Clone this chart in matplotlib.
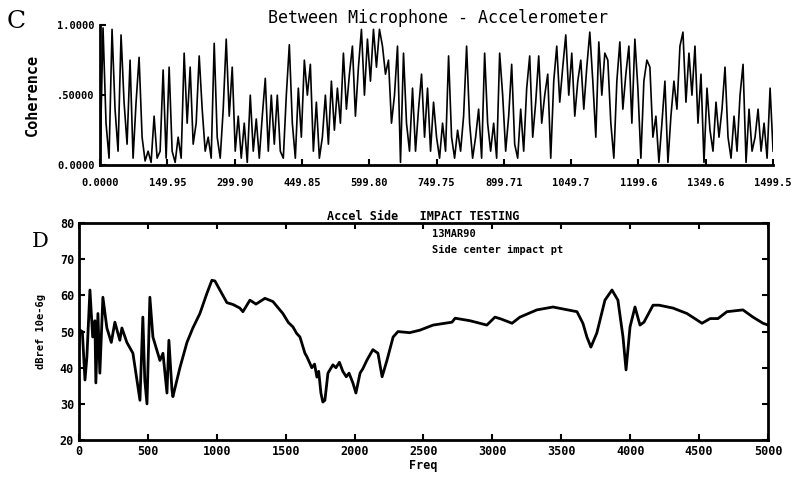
import numpy as np
import matplotlib.pyplot as plt

# panel C: coherence, sampled evenly from 0 to 1499.5 Hz
coherence = [
    0.02, 0.98, 0.30, 0.05, 0.97, 0.40, 0.10, 0.93, 0.45, 0.15,
    0.75, 0.05, 0.45, 0.77, 0.20, 0.03, 0.10, 0.02, 0.35, 0.05,
    0.10, 0.68, 0.05, 0.70, 0.10, 0.02, 0.20, 0.05, 0.80, 0.30,
    0.70, 0.15, 0.30, 0.78, 0.40, 0.10, 0.20, 0.05, 0.87, 0.20,
    0.05, 0.40, 0.90, 0.35, 0.70, 0.10, 0.35, 0.05, 0.30, 0.02,
    0.50, 0.10, 0.33, 0.05, 0.35, 0.62, 0.10, 0.50, 0.15, 0.50,
    0.10, 0.05, 0.50, 0.86, 0.30, 0.05, 0.55, 0.20, 0.75, 0.50,
    0.72, 0.10, 0.45, 0.05, 0.20, 0.50, 0.15, 0.60, 0.25, 0.55,
    0.30, 0.80, 0.40, 0.65, 0.85, 0.35, 0.70, 0.97, 0.50, 0.90,
    0.60, 0.97, 0.70, 0.97, 0.85, 0.65, 0.75, 0.30, 0.50, 0.85,
    0.02, 0.80, 0.30, 0.10, 0.55, 0.10, 0.40, 0.65, 0.20, 0.55,
    0.10, 0.45, 0.20, 0.05, 0.30, 0.10, 0.78, 0.20, 0.05, 0.25,
    0.10, 0.35, 0.85, 0.30, 0.05, 0.20, 0.40, 0.05, 0.80, 0.30,
    0.10, 0.30, 0.05, 0.80, 0.50, 0.10, 0.35, 0.72, 0.15, 0.05,
    0.40, 0.10, 0.55, 0.78, 0.20, 0.45, 0.78, 0.30, 0.50, 0.65,
    0.05, 0.60, 0.85, 0.45, 0.70, 0.93, 0.50, 0.80, 0.35, 0.60,
    0.75, 0.40, 0.70, 0.95, 0.60, 0.20, 0.88, 0.50, 0.80, 0.75,
    0.30, 0.05, 0.60, 0.88, 0.40, 0.65, 0.85, 0.30, 0.90, 0.55,
    0.05, 0.60, 0.75, 0.70, 0.20, 0.35, 0.02, 0.30, 0.60, 0.02,
    0.35, 0.60, 0.40, 0.85, 0.95, 0.45, 0.80, 0.50, 0.85, 0.30,
    0.65, 0.02, 0.55, 0.25, 0.10, 0.45, 0.20, 0.40, 0.70, 0.20,
    0.05, 0.35, 0.10, 0.50, 0.72, 0.02, 0.40, 0.10, 0.20, 0.40,
    0.10, 0.30, 0.05, 0.55, 0.10,
]
coh_ticks = ["0.0000", "149.95", "299.90", "449.85", "599.80", "749.75",
             "899.71", "1049.7", "1199.6", "1349.6", "1499.5"]

# panel D: accelerometer spectrum
freq = [0, 7, 25, 44, 58, 80, 100, 116, 123, 138, 152, 174, 203, 235, 261,
        297, 312, 348, 392, 421, 443, 464, 478, 494, 515, 537, 588, 610, 639,
        653, 675, 682, 733, 784, 827, 878, 929, 965, 987, 1023, 1074, 1118,
        1168, 1190, 1241, 1285, 1350, 1408, 1480, 1520, 1553, 1580, 1604,
        1640, 1655, 1690, 1710, 1727, 1740, 1756, 1770, 1785, 1807, 1843,
        1865, 1890, 1915, 1940, 1960, 1988, 2010, 2040, 2060, 2090, 2133,
        2170, 2200, 2235, 2280, 2315, 2400, 2475, 2570, 2707, 2730, 2838,
        2960, 3019, 3062, 3143, 3200, 3323, 3440, 3614, 3657, 3686, 3715,
        3758, 3817, 3868, 3911, 3948, 3970, 3999, 4035, 4071, 4100, 4166,
        4210, 4311, 4412, 4485, 4521, 4580, 4637, 4702, 4818, 4891, 4964,
        5000]
level = [45, 50.4, 50, 36.6, 43, 61.5, 48.5, 53, 35.8, 55, 38.5, 59.5, 51,
         47, 52.6, 47.6, 51, 47, 44, 36.6, 31, 54, 36.6, 30, 59.5, 48.5, 42,
         44, 33, 47.6, 34, 32, 40, 47, 51, 55, 60.6, 64.2, 64, 61.5, 58, 57.5,
         56.5, 55.5, 58.7, 57.6, 59.2, 58.3, 55, 52.5, 51.3, 49.5, 48.5, 44,
         43, 40, 41, 37.4, 39, 33, 30.5, 31, 38.5, 40.8, 40, 41.5, 39, 37.5,
         38.5, 35.8, 33, 38.5, 39.7, 42.1, 45, 44, 37.5, 42, 48.5, 50, 49.7,
         50.4, 51.8, 52.6, 53.7, 53, 51.8, 54, 53.5, 52.3, 54, 56, 56.8, 55.5,
         52.3, 48.5, 45.7, 49.6, 58.7, 61.5, 58.7, 48.5, 39.4, 51.3, 56.8,
         51.8, 52.6, 57.3, 57.3, 56.5, 55, 53.2, 52.3, 53.6, 53.6, 55.5, 56,
         54, 52.3, 51.8]

mono = "DejaVu Sans Mono"
fig = plt.figure(figsize=(7.97, 4.83), dpi=100)

# ---- panel C ----
ax1 = fig.add_axes([0.1255, 0.658, 0.8445, 0.29])
f_coh = np.linspace(0, 1499.5, len(coherence))
ax1.plot(f_coh, coherence, color="black", lw=1.2)
ax1.set_xlim(0, 1499.5)
ax1.set_ylim(0, 1.0)
ax1.spines[["top", "right"]].set_visible(False)
ax1.spines[["left", "bottom"]].set_linewidth(2)
ax1.set_xticks(np.linspace(0, 1499.5, len(coh_ticks)))
ax1.set_xticklabels(coh_ticks, fontfamily=mono, fontweight="bold", fontsize=7.5)
ax1.set_yticks([0, 0.5, 1.0])
ax1.set_yticklabels(["0.0000", ".50000", "1.0000"], fontfamily=mono,
                    fontweight="bold", fontsize=7.5)
ax1.tick_params(axis="x", direction="in", length=4, width=1.5, pad=9)
ax1.tick_params(axis="y", direction="in", length=4, width=1.5, pad=4)
ax1.set_ylabel("Coherence", fontfamily=mono, fontweight="bold", fontsize=11,
               labelpad=12)
fig.text(0.55, 0.962, "Between Microphone - Accelerometer", ha="center",
         va="center", fontfamily=mono, fontsize=12)
fig.text(0.008, 0.955, "C", fontfamily="DejaVu Serif", fontsize=18, va="center")

# ---- panel D ----
ax2 = fig.add_axes([0.099, 0.089, 0.8646, 0.449])
ax2.plot(freq, level, color="black", lw=2)
ax2.set_xlim(0, 5000)
ax2.set_ylim(20, 80)
for s in ax2.spines.values():
    s.set_linewidth(2)
ax2.set_xticks(range(0, 5001, 500))
ax2.set_yticks(range(20, 81, 10))
ax2.tick_params(direction="in", length=4, width=1.5, top=True, right=True,
                labelsize=8.5)
for lab in ax2.get_xticklabels() + ax2.get_yticklabels():
    lab.set_fontfamily(mono)
    lab.set_fontweight("bold")
ax2.set_xlabel("Freq", fontfamily=mono, fontweight="bold", fontsize=8.5,
               labelpad=1)
ax2.set_ylabel("dBref 10e-6g", fontfamily=mono, fontweight="bold", fontsize=7.5,
               labelpad=10)
ax2.set_title("Accel Side   IMPACT TESTING", fontfamily=mono, fontsize=8.5,
              fontweight="bold", pad=2)
ax2.text(0.513, 0.95, "13MAR90", transform=ax2.transAxes, fontfamily=mono,
         fontweight="bold", fontsize=7.5, va="center")
ax2.text(0.513, 0.875, "Side center impact pt", transform=ax2.transAxes,
         fontfamily=mono, fontweight="bold", fontsize=7.5, va="center")
fig.text(0.04, 0.5, "D", fontfamily="DejaVu Serif", fontsize=15, va="center")

fig.savefig("out.png", dpi=100)
